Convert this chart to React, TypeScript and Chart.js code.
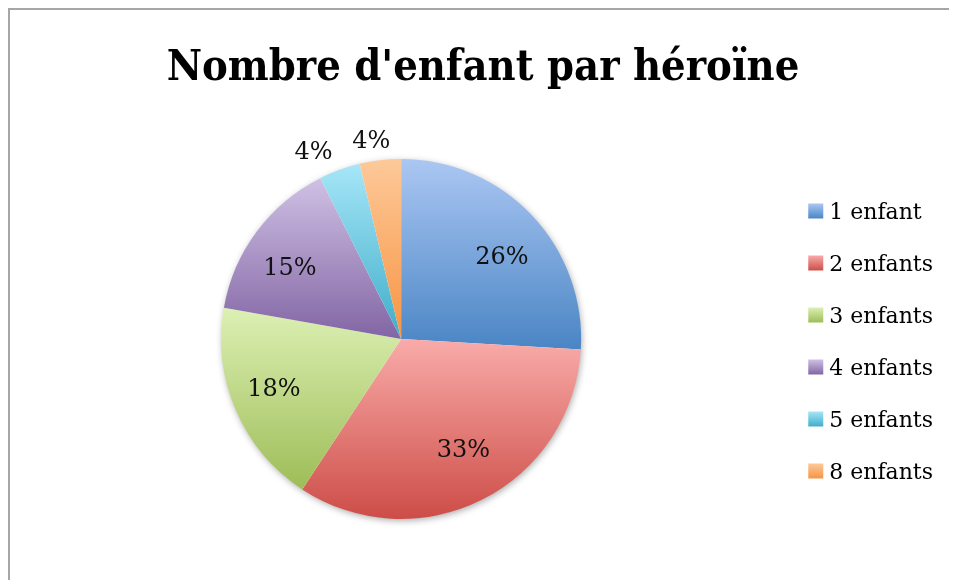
import React, { useEffect, useRef } from "react";
import { Chart, registerables } from "chart.js";

Chart.register(...registerables);

const titleText = "Nombre d'enfant par héroïne";
const categories = ["1 enfant", "2 enfants", "3 enfants", "4 enfants", "5 enfants", "8 enfants"];
const counts = [7, 9, 5, 4, 1, 1];
const percentLabels = ["26%", "33%", "18%", "15%", "4%", "4%"];
const lightColors = ["#ABC7F3", "#F9ABA9", "#DCF0B4", "#CFC0E4", "#A6E6F8", "#FDC999"];
const darkColors = ["#4A85C4", "#CD4D47", "#9EBD57", "#8265A4", "#3FADC9", "#F79443"];
const midColors = ["#7CA6DC", "#E37D78", "#BDD786", "#A892C4", "#73CAE1", "#FAAE6E"];

const SERIF = '"DejaVu Serif", serif';
const TITLE_FONT = '"DejaVu Serif Condensed", "DejaVu Serif", serif';

function arcProps(arc: any) {
  return arc.getProps(["x", "y", "startAngle", "endAngle", "outerRadius"], true);
}

function sliceYRange(arc: any) {
  const { y, startAngle, endAngle, outerRadius: r } = arcProps(arc);
  const angles = [startAngle, endAngle];
  for (let k = -8; k <= 8; k++) {
    const a = (k * Math.PI) / 2;
    if (a > startAngle && a < endAngle) angles.push(a);
  }
  let minY = y;
  let maxY = y;
  angles.forEach((a) => {
    const py = y + r * Math.sin(a);
    minY = Math.min(minY, py);
    maxY = Math.max(maxY, py);
  });
  return { minY, maxY };
}

const gradientPlugin = {
  id: "sliceGradients",
  beforeDatasetsDraw(chart: any) {
    const ctx = chart.ctx;
    const meta = chart.getDatasetMeta(0);
    if (!meta.data.length) return;
    const first = arcProps(meta.data[0]);
    ctx.save();
    ctx.shadowColor = "rgba(0,0,0,0.35)";
    ctx.shadowBlur = 7;
    ctx.shadowOffsetX = 1;
    ctx.shadowOffsetY = 2;
    ctx.beginPath();
    ctx.arc(first.x, first.y, first.outerRadius - 0.5, 0, Math.PI * 2);
    ctx.fillStyle = "#ffffff";
    ctx.fill();
    ctx.restore();
    meta.data.forEach((arc: any, i: number) => {
      const { minY, maxY } = sliceYRange(arc);
      const g = ctx.createLinearGradient(0, minY, 0, maxY);
      g.addColorStop(0, lightColors[i]);
      g.addColorStop(1, darkColors[i]);
      arc.options = Object.assign({}, arc.options, { backgroundColor: g });
    });
  },
};

const labelPlugin = {
  id: "pctLabels",
  afterDatasetsDraw(chart: any) {
    const ctx = chart.ctx;
    const meta = chart.getDatasetMeta(0);
    const total = counts.reduce((a, b) => a + b, 0);
    const size = 24;
    const capHalf = size * 0.365;
    ctx.save();
    ctx.font = `${size}px ${SERIF}`;
    ctx.fillStyle = "#111111";
    ctx.textBaseline = "alphabetic";
    ctx.textAlign = "center";
    meta.data.forEach((arc: any, i: number) => {
      const { x, y, startAngle, endAngle, outerRadius } = arcProps(arc);
      const mid = (startAngle + endAngle) / 2;
      const frac = counts[i] / total;
      const text = percentLabels[i];
      const c = Math.cos(mid);
      const s = Math.sin(mid);
      if (frac > 0.06) {
        ctx.fillText(text, x + c * outerRadius * 0.77, y + s * outerRadius * 0.68 + capHalf);
      } else {
        const d = outerRadius + 21;
        const w = ctx.measureText(text).width;
        const shift = (w / 2) * Math.sign(c) * Math.min(1, Math.abs(c) * 2.9);
        ctx.fillText(text, x + c * d + shift, y + s * d + capHalf);
      }
    });
    ctx.restore();
  },
};

const legendBoxPlugin = {
  id: "legendBoxes",
  afterDraw(chart: any) {
    const legend = chart.legend;
    if (!legend || !legend.legendHitBoxes) return;
    const ctx = chart.ctx;
    const size = 15;
    legend.legendHitBoxes.forEach((hb: any, i: number) => {
      const bx = hb.left - 1;
      const by = hb.top + hb.height / 2 - size / 2 - 2;
      const g = ctx.createLinearGradient(0, by, 0, by + size);
      g.addColorStop(0, lightColors[i]);
      g.addColorStop(1, darkColors[i]);
      ctx.save();
      ctx.fillStyle = "#ffffff";
      ctx.fillRect(hb.left - 2, hb.top, 12, hb.height);
      ctx.fillStyle = g;
      ctx.fillRect(bx, by, size, size);
      ctx.restore();
    });
  },
};

export default function App() {
  const canvasRef = useRef<HTMLCanvasElement | null>(null);

  useEffect(() => {
    if (!canvasRef.current) return;
    const chart = new Chart(canvasRef.current, {
      type: "pie",
      data: {
        labels: categories,
        datasets: [
          {
            data: counts,
            backgroundColor: midColors,
            borderWidth: 0,
          },
        ],
      },
      options: {
        responsive: false,
        animation: false,
        layout: { padding: { top: 0, bottom: 61, left: 13, right: 14 } },
        plugins: {
          title: {
            display: true,
            text: titleText,
            color: "#000000",
            font: { family: TITLE_FONT, size: 43, weight: "bold", lineHeight: 1.2 },
            padding: { top: 33, bottom: 64.4 },
          },
          legend: {
            position: "right",
            fullSize: false,
            align: "center",
            title: { display: true, text: " ", font: { size: 8, lineHeight: 1 }, padding: 0 },
            labels: {
              boxWidth: 9,
              boxHeight: 15,
              padding: 30,
              color: "#000000",
              font: { family: SERIF, size: 22 },
            },
          },
          tooltip: { enabled: false },
        },
      },
      plugins: [gradientPlugin, labelPlugin, legendBoxPlugin],
    });
    return () => chart.destroy();
  }, []);

  return (
    <div
      style={{
        width: 949,
        height: 572,
        boxSizing: "border-box",
        borderTop: "2px solid #a6a6a6",
        borderLeft: "2px solid #a6a6a6",
        overflow: "hidden",
      }}
    >
      <canvas ref={canvasRef} width={947} height={570} style={{ display: "block", width: 947, height: 570 }} />
    </div>
  );
}
